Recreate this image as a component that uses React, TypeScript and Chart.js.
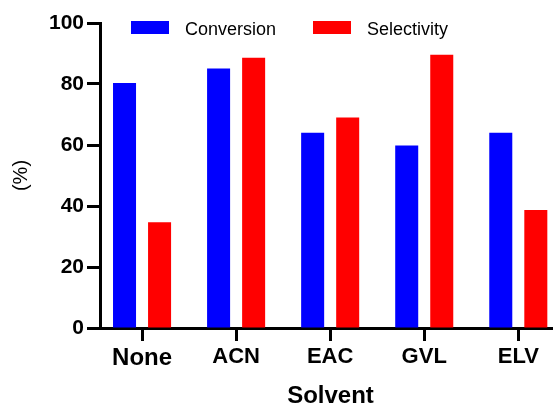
import React, { useEffect, useRef } from "react";
import { Chart, registerables } from "chart.js";

Chart.register(...registerables);

const CATEGORIES = ["None", "ACN", "EAC", "GVL", "ELV"];
const CONVERSION = [80.3, 85.1, 64.0, 59.8, 64.0];
const SELECTIVITY = [34.7, 88.6, 69.0, 89.6, 38.7];
const SERIES_NAMES = ["Conversion", "Selectivity"];
const SERIES_COLORS = ["#0000FF", "#FF0000"];
const Y_TICKS = [0, 20, 40, 60, 80, 100];

const FONT = "'Liberation Sans', Arial, Helvetica, sans-serif";

const legendPlugin = {
  id: "insideLegend",
  afterDraw(chart: any) {
    const ctx = chart.ctx;
    const { left, top } = chart.chartArea;
    const starts = [left + 31, left + 213];
    ctx.save();
    ctx.font = `18px ${FONT}`;
    ctx.textBaseline = "alphabetic";
    ctx.textAlign = "left";
    chart.data.datasets.forEach((ds: any, i: number) => {
      const x = starts[i];
      ctx.fillStyle = ds.backgroundColor;
      ctx.fillRect(x, top - 2, 38, 13);
      ctx.fillStyle = "#000";
      ctx.fillText(ds.label, x + 54, top + 12);
    });
    ctx.restore();
  },
};

export default function App() {
  const ref = useRef<HTMLCanvasElement | null>(null);

  useEffect(() => {
    if (!ref.current) return;
    Chart.defaults.font.family = FONT;
    Chart.defaults.color = "#000";
    const seriesValues = [CONVERSION, SELECTIVITY];
    const chart = new Chart(ref.current, {
      type: "bar",
      data: {
        datasets: SERIES_NAMES.map((name, s) => ({
          label: name,
          data: CATEGORIES.map((_, i) => ({ x: i, y: seriesValues[s][i] })),
          backgroundColor: SERIES_COLORS[s],
          borderWidth: 0,
          categoryPercentage: 0.745,
          barPercentage: 0.657,
        })),
      },
      options: {
        responsive: false,
        animation: false,
        layout: { padding: { top: 23, left: 0, right: 0, bottom: 0 } },
        plugins: {
          legend: { display: false },
          tooltip: { enabled: false },
        },
        scales: {
          x: {
            type: "linear",
            min: -0.447,
            max: 4.454,
            offset: false,
            afterFit: (scale: any) => {
              scale.height = 78;
            },
            afterBuildTicks: (scale: any) => {
              scale.ticks = CATEGORIES.map((_, i) => ({ value: i }));
            },
            grid: {
              offset: false,
              drawOnChartArea: false,
              tickLength: 13,
              tickWidth: 3,
              tickColor: "#000",
              color: "#000",
            },
            border: { display: true, width: 3, color: "#000" },
            ticks: {
              autoSkip: false,
              maxRotation: 0,
              padding: 3,
              color: "#000",
              font: (ctx: any) => ({
                size: ctx.index === 0 ? 24 : 22,
                weight: "bold",
                family: FONT,
              }),
              callback: (value: any) => CATEGORIES[value as number] ?? "",
            },
            title: {
              display: true,
              text: "Solvent",
              color: "#000",
              font: { size: 24, weight: "bold", family: FONT, lineHeight: 0.8 },
              padding: { top: 0, bottom: 0 },
            },
          },
          y: {
            min: 0,
            max: 100,
            afterFit: (scale: any) => {
              scale.width = 100;
            },
            afterBuildTicks: (scale: any) => {
              scale.ticks = Y_TICKS.map((v) => ({ value: v }));
            },
            grid: {
              drawOnChartArea: false,
              tickLength: 13,
              tickWidth: 3,
              tickColor: "#000",
              color: "#000",
            },
            border: { display: true, width: 3, color: "#000" },
            ticks: {
              padding: 3,
              color: "#000",
              font: { size: 21, weight: "bold", family: FONT },
            },
            title: {
              display: true,
              text: "(%)",
              color: "#000",
              font: { size: 20, weight: "normal", family: FONT },
              padding: { top: 9, bottom: 0 },
            },
          },
        },
      },
      plugins: [legendPlugin],
    } as any);
    return () => chart.destroy();
  }, []);

  return (
    <div
      style={{
        position: "fixed",
        left: 0,
        top: 0,
        width: 553,
        height: 406,
        overflow: "hidden",
        background: "#fff",
      }}
    >
      <canvas
        ref={ref}
        width={561}
        height={406}
        style={{ display: "block", width: 561, height: 406 }}
      />
    </div>
  );
}
